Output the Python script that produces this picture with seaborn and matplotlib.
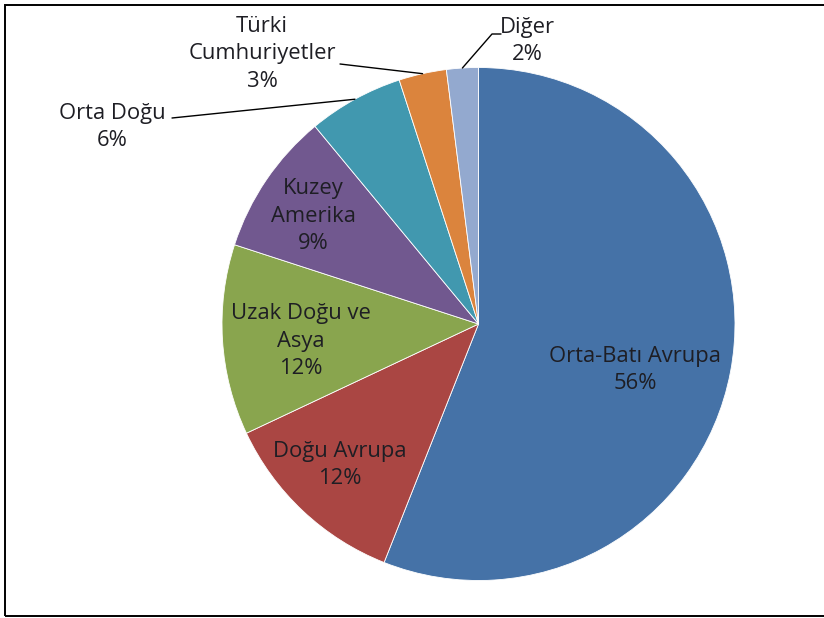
import matplotlib
matplotlib.use("Agg")
import matplotlib.pyplot as plt
import matplotlib.patches as mpatches
import numpy as np
import seaborn as sns

# Export share by region (%)
regions = ["Orta-Batı Avrupa", "Doğu Avrupa", "Uzak Doğu ve\nAsya", "Kuzey\nAmerika",
           "Orta Doğu", "Türki\nCumhuriyetler", "Diğer"]
shares = [56, 12, 12, 9, 6, 3, 2]
colors = ["#4572A7", "#AA4643", "#89A54E", "#71588F", "#4198AF", "#DB843D", "#93A9CF"]

sns.set_theme(style="white")
plt.rcParams["font.family"] = ["Open Sans", "DejaVu Sans"]

W, H = 824, 618
fig = plt.figure(figsize=(W / 100, H / 100), dpi=100)
ax = fig.add_axes([0, 0, 1, 1])

cx, cy, r = 478.5, H - 324, 256.5
wedges, _ = ax.pie(shares, colors=colors, startangle=90, counterclock=False,
                   center=(cx, cy), radius=r, frame=True,
                   wedgeprops=dict(edgecolor="white", linewidth=0.6))
ax.set_xlim(0, W)
ax.set_ylim(0, H)
ax.set_aspect("equal")
ax.axis("off")

txt = dict(ha="center", va="center", fontsize=15.8, color="#1e1e24", linespacing=1.42)

def lbl(i):
    return f"{regions[i]}\n{shares[i]}%"

# labels inside the larger slices (pixel positions measured from the top)
inside = {0: (635, 370), 1: (340, 465), 2: (301, 341), 3: (313, 216)}
for i, (x, y) in inside.items():
    ax.text(x, H - y, lbl(i), **txt)

# labels outside with leader lines to the slice's outer midpoint
def edge_point(i):
    w = wedges[i]
    mid = np.deg2rad((w.theta1 + w.theta2) / 2)
    return cx + r * np.cos(mid), cy + r * np.sin(mid)

outside = {4: ((112, 127), [(172, 118)]),
           5: ((262, 54), [(340, 64)]),
           6: ((527, 41), [(501, 34), (492, 34)])}
for i, ((x, y), path) in outside.items():
    ax.text(x, H - y, lbl(i), **txt)
    ex, ey = edge_point(i)
    xs = [p[0] for p in path] + [ex]
    ys = [H - p[1] for p in path] + [ey]
    ax.plot(xs, ys, color="black", linewidth=1.0)

# chart frame
fig.patches.append(mpatches.Rectangle((5 / W, 2 / H), 1.2, (H - 7) / H,
                                      transform=fig.transFigure, fill=False,
                                      edgecolor="black", linewidth=1.4))

fig.savefig("out.png", dpi=100, facecolor="white")
